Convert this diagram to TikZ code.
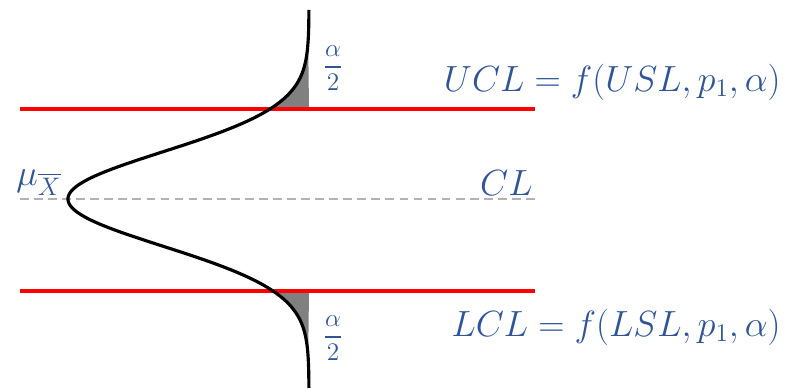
\documentclass[tikz,border=0pt]{standalone}
\usepackage{amsmath}
\usetikzlibrary{positioning}
\definecolor{lblblue}{RGB}{47,85,151}
\definecolor{limred}{RGB}{255,0,0}

\begin{document}
\begin{tikzpicture}[x=0.02cm, y=-0.02cm,
  limit/.style={draw=limred, line width=2pt},
  center/.style={draw=black!30, line width=1.1pt, dash pattern=on 5pt off 3pt},
  lbl/.style={text=lblblue, inner sep=0pt, font=\fontsize{20}{24}\selectfont},
  frac/.style={text=lblblue, inner sep=0pt, font=\fontsize{14.4}{17}\selectfont}]
\useasboundingbox (0,0) rectangle (796,391);
% tails
\fill[black!50] plot[domain=40:109, samples=60] ({309-241*exp(-((\x-199)/10)^2/44.5)}, \x) -- (309,109) -- cycle;
\fill[black!50] plot[domain=358:291, samples=60] ({309-241*exp(-((\x-199)/10)^2/44.5)}, \x) -- (309,291) -- cycle;
% limit lines
\draw[center] (20,199) -- (535,199);
\draw[limit] (20,109) -- (535,109);
\draw[limit] (20,291) -- (535,291);
% distribution
\draw[line width=1.8pt] plot[domain=10:388, samples=200, smooth] ({309-241*exp(-((\x-199)/10)^2/44.5)}, \x);
% labels
\node[frac] (aup) at (333,68) {$\dfrac{\alpha}{2}$};
\node[frac] (alow) at (333,338) {$\dfrac{\alpha}{2}$};
\node[lbl, anchor=east] (ucl) at (781,82) {$UCL = f(USL, p_1, \alpha)$};
\node[lbl, anchor=east] (cl) at (533,183) {$CL$};
\node[lbl, anchor=east] (lcl) at (781,327) {$LCL = f(LSL, p_1, \alpha)$};
\node[lbl, anchor=west] (mu) at (16,183) {$\mu_{\overline{X}}$};
\end{tikzpicture}
\end{document}
